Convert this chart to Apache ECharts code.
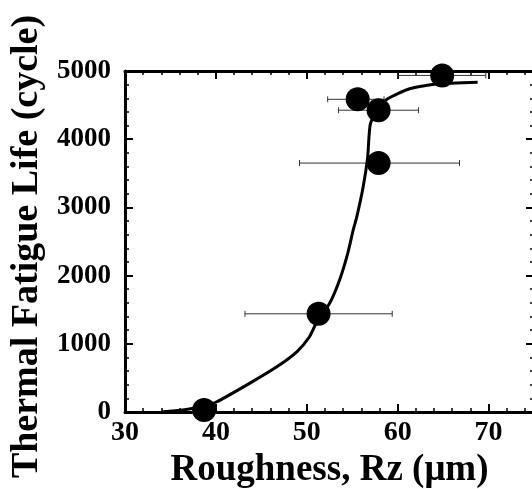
<!DOCTYPE html>
<html><head><meta charset="utf-8">
<script src="https://cdn.jsdelivr.net/npm/echarts@6/dist/echarts.min.js"></script>
<style>html,body{margin:0;padding:0;background:#fff}#c{width:532px;height:489px}</style>
</head><body><div id="c"></div>
<script>
// Measured points: roughness Rz (µm) vs thermal fatigue life (cycle)
const roughness = [38.7, 51.3, 57.9, 57.9, 55.6, 64.9];
const life      = [30, 1440, 3650, 4425, 4585, 4935];
const roughLow  = [null, 43.2, 49.2, 53.5, 52.3, 60.0];
const roughHigh = [null, 59.4, 66.8, 62.3, 58.5, 69.7];
// Fitted trend curve
const fitRough = [34.0, 36.4, 38.5, 40.1, 43.7, 46.7, 48.9, 50.3, 51.2, 52.5, 53.6, 54.5, 55.1, 55.5, 56.2, 56.7, 57.0, 58.0, 58.9, 61.3, 64.3, 68.8];
const fitLife  = [0, 30, 80, 150, 420, 663, 883, 1103, 1347, 1591, 1933, 2323, 2665, 2860, 3299, 3738, 4227, 4470, 4593, 4740, 4810, 4836];
const xTicks = [30, 40, 50, 60, 70];
const yTicks = [0, 1000, 2000, 3000, 4000, 5000];

const FONT = "'Liberation Serif','Times New Roman',serif";
const xMin = xTicks[0], xMax = 75, xStep = xTicks[1] - xTicks[0];
const yMin = yTicks[0], yMax = yTicks[yTicks.length - 1], yStep = yTicks[1] - yTicks[0];

function xAx(pos, major, labels) {
  return {
    type: 'value', position: pos, min: xMin, max: xMax,
    interval: major ? xStep : 2,
    axisLine: { show: major, onZero: false, lineStyle: { color: '#000', width: 3 } },
    axisTick: { show: true, inside: true, length: major ? 8 : 4, lineStyle: { color: '#000', width: major ? 2 : 1.5 } },
    axisLabel: labels ? { show: true, fontFamily: FONT, fontWeight: 'bold', fontSize: 28, color: '#000', margin: 7, showMaxLabel: false } : { show: false },
    splitLine: { show: false }
  };
}
const xAxes = [xAx('bottom', true, true), xAx('bottom', false, false), xAx('top', true, false), xAx('top', false, false)];
xAxes[0].name = 'Roughness, Rz (μm)';
xAxes[0].nameLocation = 'middle';
xAxes[0].nameGap = 28;
xAxes[0].nameTextStyle = { fontFamily: FONT, fontWeight: 'bold', fontSize: 37, color: '#000' };

function yAx(pos, labels) {
  const a = {
    type: 'value', position: pos, min: yMin, max: yMax, interval: yStep,
    axisLine: { show: true, onZero: false, lineStyle: { color: '#000', width: 3 } },
    axisTick: { show: true, inside: true, length: 8, lineStyle: { color: '#000', width: 2 } },
    minorTick: { show: true, splitNumber: 5, length: 4, lineStyle: { color: '#000', width: 1.5 } },
    axisLabel: labels ? { show: true, fontFamily: FONT, fontWeight: 'bold', fontSize: 27, color: '#000', margin: 14, formatter: v => String(v) } : { show: false },
    splitLine: { show: false }
  };
  if (labels) {
    a.name = 'Thermal Fatigue Life (cycle)';
    a.nameLocation = 'middle';
    a.nameGap = 78;
    a.nameRotate = 90;
    a.nameTextStyle = { fontFamily: FONT, fontWeight: 'bold', fontSize: 38, color: '#000', padding: [0, 10, 0, 0] };
  }
  return a;
}

const errData = [];
roughness.forEach((x, i) => { if (roughLow[i] != null) errData.push([x, life[i], roughLow[i], roughHigh[i]]); });

const chart = echarts.init(document.getElementById('c'), null, { renderer: 'canvas' });
chart.setOption({
  animation: false,
  backgroundColor: '#fff',
  grid: { left: 125, top: 71, width: 409, height: 341, containLabel: false, outerBoundsMode: 'none' },
  xAxis: xAxes,
  yAxis: [yAx('left', true), yAx('right', false)],
  series: [
    {
      type: 'line', xAxisIndex: 0, yAxisIndex: 0,
      data: fitRough.map((x, i) => [x, fitLife[i]]),
      showSymbol: false, smooth: 0.2,
      lineStyle: { color: '#000', width: 3 }, z: 3
    },
    {
      type: 'custom', xAxisIndex: 0, yAxisIndex: 0,
      data: errData, encode: { x: [2, 3], y: 1 }, z: 2,
      renderItem: function (params, api) {
        const y = api.value(1);
        const lo = api.coord([api.value(2), y]);
        const hi = api.coord([api.value(3), y]);
        const h = 3, st = { stroke: '#333', lineWidth: 1 };
        return { type: 'group', children: [
          { type: 'line', shape: { x1: lo[0], y1: lo[1], x2: hi[0], y2: hi[1] }, style: st },
          { type: 'line', shape: { x1: lo[0], y1: lo[1] - h, x2: lo[0], y2: lo[1] + h }, style: st },
          { type: 'line', shape: { x1: hi[0], y1: hi[1] - h, x2: hi[0], y2: hi[1] + h }, style: st }
        ] };
      }
    },
    {
      type: 'scatter', xAxisIndex: 0, yAxisIndex: 0,
      data: roughness.map((x, i) => [x, life[i]]),
      symbol: 'circle', symbolSize: 24,
      itemStyle: { color: '#000', opacity: 1 }, z: 4
    }
  ]
});
</script></body></html>
